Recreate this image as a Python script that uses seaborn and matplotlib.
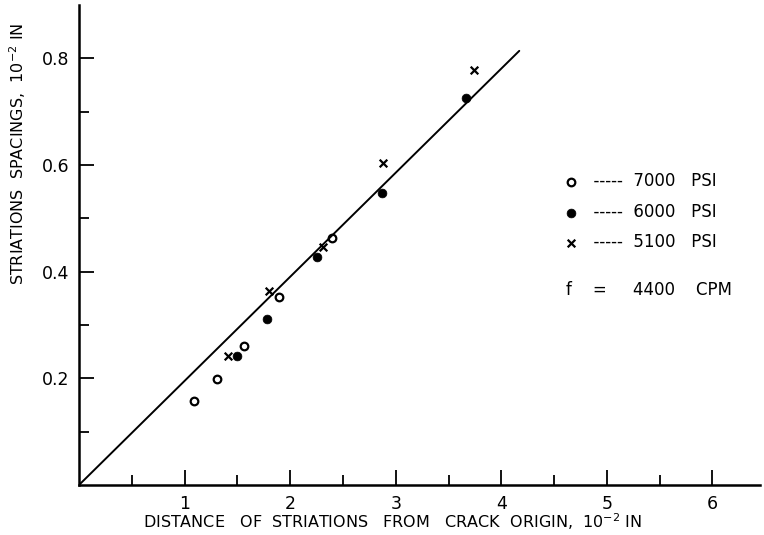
import numpy as np
import pandas as pd
import matplotlib
matplotlib.use("Agg")
import matplotlib.pyplot as plt
import seaborn as sns

# ── données ──────────────────────────────────────────────────
x_7000 = [1.09, 1.31, 1.56, 1.89, 2.40]
y_7000 = [0.158, 0.199, 0.261, 0.352, 0.464]

x_6000 = [1.50, 1.78, 2.25, 2.87, 3.67]
y_6000 = [0.241, 0.312, 0.427, 0.547, 0.725]

x_5100 = [1.41, 1.80, 2.31, 2.88, 3.74]
y_5100 = [0.241, 0.363, 0.447, 0.603, 0.779]

fit_x = [0.0, 4.17]
fit_y = [0.0, 0.814]

labels = ["7000   PSI", "6000   PSI", "5100   PSI"]
x_ticks = [1, 2, 3, 4, 5, 6]
y_ticks = [0.2, 0.4, 0.6, 0.8]

sns.set_style("ticks")
plt.rcParams["font.family"] = ["DejaVu Sans"]
plt.rcParams["text.color"] = "black"
plt.rcParams["axes.labelcolor"] = "black"
plt.rcParams["xtick.color"] = "black"
plt.rcParams["ytick.color"] = "black"
plt.rcParams["axes.edgecolor"] = "black"

fig = plt.figure(figsize=(7.64, 5.35), dpi=100)
ax = fig.add_axes([79 / 764, 50 / 535, 681 / 764, 480 / 535])

# droite de régression
sns.lineplot(x=fit_x, y=fit_y, ax=ax, color="black", linewidth=1.4)

lead = "  -----  "
sns.scatterplot(x=x_7000, y=y_7000, ax=ax, marker="o", s=30,
                facecolors="white", edgecolor="black", linewidth=1.6,
                label=lead + labels[0])
sns.scatterplot(x=x_6000, y=y_6000, ax=ax, marker="o", s=40,
                color="black", edgecolor="black",
                label=lead + labels[1])
sns.scatterplot(x=x_5100, y=y_5100, ax=ax, marker="x", s=30,
                color="black", linewidth=1.6,
                label=lead + labels[2])

ax.set_xlim(0, 6.45)
ax.set_ylim(0, 0.9)
ax.set_xticks(x_ticks)
ax.set_xticklabels([str(t) for t in x_ticks])
ax.set_xticks(np.arange(0.5, 6.5, 1.0), minor=True)
ax.set_yticks(y_ticks)
ax.set_yticklabels([f"{t:.1f}" for t in y_ticks])
ax.set_yticks([0.1, 0.3, 0.5, 0.7], minor=True)

ax.tick_params(which="major", direction="in", length=11, width=1.3,
               labelsize=12.5, pad=7)
ax.tick_params(which="minor", direction="in", length=7, width=1.3)
for side in ["top", "right"]:
    ax.spines[side].set_visible(False)
for side in ["left", "bottom"]:
    ax.spines[side].set_linewidth(1.8)

ax.set_xlabel("DISTANCE   OF  STRIATIONS   FROM   CRACK  ORIGIN,  10$^{-2}$ IN",
              fontsize=11.5)
ax.xaxis.set_label_coords(0.46, -0.055)
ax.set_ylabel("STRIATIONS  SPACINGS,  10$^{-2}$ IN", fontsize=11.5)
ax.yaxis.set_label_coords(-0.075, 0.69)

ax.legend(loc="upper left", bbox_to_anchor=(0.70, 0.665), frameon=False,
          fontsize=12, handletextpad=0.25, labelspacing=0.75,
          handlelength=1.0, borderaxespad=0)
ax.text(0.715, 0.406, "f    =     4400    CPM", transform=ax.transAxes,
        fontsize=12, va="center", ha="left")

fig.savefig("out.png", dpi=100)
